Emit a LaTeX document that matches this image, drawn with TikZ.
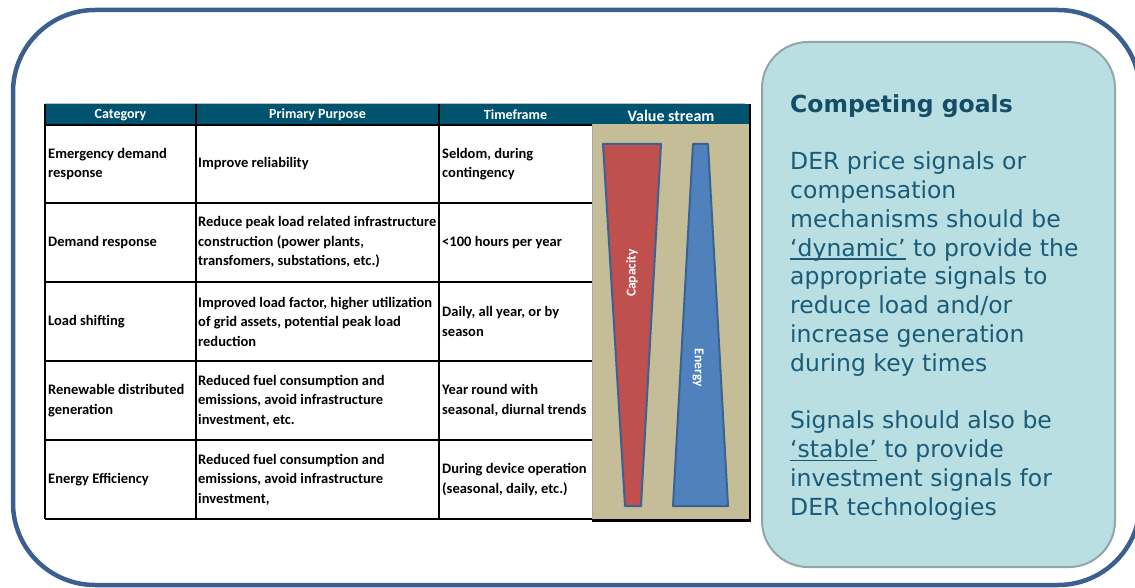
\documentclass[tikz,border=0pt]{standalone}
\usepackage{fontspec}
\setmainfont{Carlito}
\newfontfamily\verd{DejaVu Sans}
\usepackage{tikz}
\definecolor{frameblue}{HTML}{3B5F8E}
\definecolor{headteal}{HTML}{00536F}
\definecolor{streamtan}{HTML}{C4BD97}
\definecolor{capred}{HTML}{C0504D}
\definecolor{enblue}{HTML}{4F81BD}
\definecolor{edgeblue}{HTML}{3A6293}
\definecolor{boxfill}{HTML}{B9DFE3}
\definecolor{boxedge}{HTML}{8FA7A9}
\definecolor{goaltext}{HTML}{1A5B78}
\newcommand{\undl}[1]{\setbox0\hbox{#1}\rlap{\rule[-3.5pt]{\wd0}{1.2pt}}\box0\relax}
\tikzstyle{Head}=[text=white, font=\bfseries\fontsize{14}{16}\selectfont, inner sep=0]
\tikzstyle{Cell}=[anchor=west, align=left, inner sep=0, font=\bfseries\fontsize{14.5}{19.5}\selectfont]
\tikzstyle{Grid}=[line width=1.3pt]
\tikzstyle{Wedge}=[draw=edgeblue, line width=2pt, line join=round]
\tikzstyle{Vlabel}=[text=white, font=\bfseries\fontsize{13.5}{14}\selectfont, inner sep=0]

\begin{document}
\begin{tikzpicture}[x=1pt, y=-1pt]
    \useasboundingbox (0,0) rectangle (1135,588);
    \draw[frameblue, line width=4.5pt, rounded corners=82] (13,10) rectangle (1140,585);

    % table header and value stream column
    \fill[headteal] (45,104) rectangle (592,125);
    \fill[headteal] (592,104) rectangle (750,124);
    \fill[streamtan] (592,124) rectangle (750,520);
    \draw[gray!50, line width=0.8pt] (45,103) -- (745,103);
    \path
    (120.5,115) node[Head] (hcat) {Category}
    (317.5,115) node[Head] (hpur) {Primary Purpose}
    (515.5,115) node[Head] (htim) {Timeframe}
    (671,116) node[Head, font=\bfseries\fontsize{16}{18}\selectfont] (hval) {Value stream};

    \foreach \y in {125,203,282,361,440,519}
        \draw[Grid] (45,\y) -- (592,\y);
    \foreach \x in {45,196,439}
        \draw[Grid] (\x,104) -- (\x,519);
    \draw[gray!70, line width=0.8pt] (592,125) -- (592,519);
    \draw[line width=2.5pt] (750,104) -- (750,520.5) -- (592,520.5);

    % rows
    \path
    (48,164) node[Cell] (cat1) {Emergency demand\\response}
    (198,164) node[Cell] (pur1) {Improve reliability}
    (442,164) node[Cell] (tim1) {Seldom, during\\contingency}
    (48,242.5) node[Cell] (cat2) {Demand response}
    (198,242.5) node[Cell] (pur2) {Reduce peak load related infrastructure\\construction (power plants,\\transfomers, substations, etc.)}
    (442,242.5) node[Cell] (tim2) {<100 hours per year}
    (48,321.5) node[Cell] (cat3) {Load shifting}
    (198,321.5) node[Cell] (pur3) {Improved load factor, higher utilization\\of grid assets, potential peak load\\reduction}
    (442,321.5) node[Cell] (tim3) {Daily, all year, or by\\season}
    (48,400.5) node[Cell] (cat4) {Renewable distributed\\generation}
    (198,400.5) node[Cell] (pur4) {Reduced fuel consumption and\\emissions, avoid infrastructure\\investment, etc.}
    (442,400.5) node[Cell] (tim4) {Year round with\\seasonal, diurnal trends}
    (48,479.5) node[Cell] (cat5) {Energy Efficiency}
    (198,479.5) node[Cell] (pur5) {Reduced fuel consumption and\\emissions, avoid infrastructure\\investment,}
    (442,479.5) node[Cell] (tim5) {During device operation\\(seasonal, daily, etc.)};

    % value stream wedges
    \draw[Wedge, fill=capred] (603,144) -- (661,144) -- (641,506) -- (625,506) -- cycle;
    \draw[Wedge, fill=enblue] (693,144) -- (708,144) -- (728,506) -- (673,506) -- cycle;
    \node[Vlabel, rotate=90] (cap) at (632,273) {Capacity};
    \node[Vlabel, rotate=-90] (ene) at (698,368) {Energy};

    % competing goals
    \draw[boxedge, fill=boxfill, line width=2pt, rounded corners=46] (762,42) rectangle (1115,567);
    \node[anchor=north west, inner sep=0, align=left, text=goaltext,
        font=\verd\fontsize{23.5}{28.8}\selectfont] (goals) at (790,94)
        {{\bfseries\color{goaltext!85!black} Competing goals}\\[28.8pt]
        DER price signals or\\compensation\\mechanisms should be\\
        \undl{‘dynamic’} to provide the\\appropriate signals to\\
        reduce load and/or\\increase generation\\during key times\\[28.8pt]
        Signals should also be\\\undl{‘stable’} to provide\\
        investment signals for\\DER technologies};
\end{tikzpicture}
\end{document}
